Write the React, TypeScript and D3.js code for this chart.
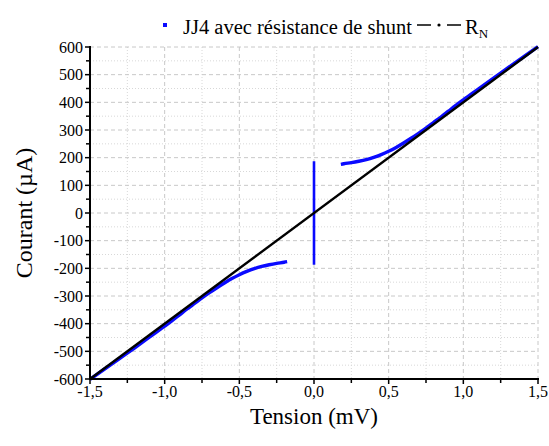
import React from "react";
import * as d3 from "d3";

const posV = [0.18, 0.2, 0.25, 0.3, 0.35, 0.4, 0.45, 0.5, 0.55, 0.6, 0.65, 0.7, 0.75, 0.8, 0.85, 0.9, 0.95, 1.0, 1.1, 1.2, 1.3, 1.4, 1.5];
const posI = [176, 178, 182, 187, 193, 201, 211, 223, 237, 253, 270, 288, 307, 327, 347, 368, 389, 409, 448, 487, 525, 563, 601];
const superV = [0, 0];
const superI = [-187, 187];
const rnV = [-1.5, 1.5];
const rnI = [-600, 600];
const xTicks = [-1.5, -1.0, -0.5, 0.0, 0.5, 1.0, 1.5];
const xMinor = [-1.25, -0.75, -0.25, 0.25, 0.75, 1.25];
const yTicks = [-600, -500, -400, -300, -200, -100, 0, 100, 200, 300, 400, 500, 600];
const yMinor = [-550, -450, -350, -250, -150, -50, 50, 150, 250, 350, 450, 550];
const legendLabel = "JJ4 avec résistance de shunt";
const xTitle = "Tension (mV)";
const yTitle = "Courant (µA)";

const W = 549, H = 446;
const L = 90, R = 538, T = 47, B = 379;
const FONT = "Liberation Serif, DejaVu Serif, serif";

export default function App() {
  const x = d3.scaleLinear().domain([-1.5, 1.5]).range([L, R]);
  const y = d3.scaleLinear().domain([-600, 600]).range([B, T]);
  const line = d3.line<[number, number]>().x(d => x(d[0])).y(d => y(d[1])).curve(d3.curveMonotoneX);
  const pos: [number, number][] = posV.map((v, i) => [v, posI[i]]);
  const neg: [number, number][] = posV.map((v, i) => [-v, -posI[i]]).reverse();
  const sup: [number, number][] = superV.map((v, i) => [v, superI[i]]);
  const rn: [number, number][] = rnV.map((v, i) => [v, rnI[i]]);
  const fmt = (v: number) => v.toFixed(1).replace(".", ",");
  const lineStraight = d3.line<[number, number]>().x(d => x(d[0])).y(d => y(d[1]));
  const ts: React.CSSProperties = { fontFamily: FONT };
  const ly = 25;

  return (
    <svg width={W} height={H} style={{ position: "absolute", left: 0, top: 0, background: "#fff", fontFamily: FONT }}>
      {xMinor.map(v => (
        <line key={"xm" + v} x1={x(v)} x2={x(v)} y1={T} y2={B} stroke="#d8d8d8" strokeWidth={1} strokeDasharray="1,2" />
      ))}
      {yMinor.map(v => (
        <line key={"ym" + v} x1={L} x2={R} y1={y(v)} y2={y(v)} stroke="#d8d8d8" strokeWidth={1} strokeDasharray="1,2" />
      ))}
      {xTicks.slice(1).map(v => (
        <line key={"xg" + v} x1={x(v)} x2={x(v)} y1={T} y2={B} stroke="#c8c8c8" strokeWidth={1} strokeDasharray="4,3" />
      ))}
      {yTicks.slice(1).map(v => (
        <line key={"yg" + v} x1={L} x2={R} y1={y(v)} y2={y(v)} stroke="#c8c8c8" strokeWidth={1} strokeDasharray="4,3" />
      ))}

      <path d={line(neg) || ""} fill="none" stroke="#0a0aff" strokeWidth={3.4} />
      <path d={line(pos) || ""} fill="none" stroke="#0a0aff" strokeWidth={3.4} />
      <path d={lineStraight(sup) || ""} fill="none" stroke="#0a0aff" strokeWidth={2.6} />
      <path d={lineStraight(rn) || ""} fill="none" stroke="#000" strokeWidth={2.4} />

      <line x1={L} x2={L} y1={T - 1} y2={B + 1} stroke="#000" strokeWidth={2} />
      <line x1={L - 1} x2={R + 1} y1={B} y2={B} stroke="#000" strokeWidth={2} />
      {yTicks.map(v => (
        <g key={"yt" + v}>
          <line x1={L - 5} x2={L} y1={y(v)} y2={y(v)} stroke="#000" strokeWidth={1.5} />
          <text x={L - 7} y={y(v)} dy="0.35em" textAnchor="end" fontSize={16} fill="#000" style={ts}>{v}</text>
        </g>
      ))}
      {yMinor.map(v => (
        <line key={"ymt" + v} x1={L - 4} x2={L} y1={y(v)} y2={y(v)} stroke="#000" strokeWidth={1.5} />
      ))}
      {xTicks.map(v => (
        <g key={"xt" + v}>
          <line x1={x(v)} x2={x(v)} y1={B} y2={B + 5} stroke="#000" strokeWidth={1.5} />
          <text x={x(v)} y={B + 18} textAnchor="middle" fontSize={16} fill="#000" style={ts}>{fmt(v)}</text>
        </g>
      ))}
      {xMinor.map(v => (
        <line key={"xmt" + v} x1={x(v)} x2={x(v)} y1={B} y2={B + 4} stroke="#000" strokeWidth={1.5} />
      ))}

      <text x={(L + R) / 2} y={424} textAnchor="middle" fontSize={23} fill="#000" style={ts}>{xTitle}</text>
      <text transform={`translate(32, ${(T + B) / 2}) rotate(-90)`} textAnchor="middle" fontSize={24} fill="#000" style={ts}>{yTitle}</text>

      <rect x={163} y={ly - 2} width={4} height={4} fill="#0a0aff" />
      <text x={183} y={34} fontSize={20.5} fill="#000" style={ts}>{legendLabel}</text>
      <line x1={417} x2={431} y1={ly} y2={ly} stroke="#000" strokeWidth={1.5} />
      <circle cx={439} cy={ly} r={1.6} fill="#000" />
      <line x1={447} x2={461} y1={ly} y2={ly} stroke="#000" strokeWidth={1.5} />
      <text x={465} y={34} fontSize={20.5} fill="#000" style={ts}>R<tspan fontSize={13} dy={4}>N</tspan></text>
    </svg>
  );
}
